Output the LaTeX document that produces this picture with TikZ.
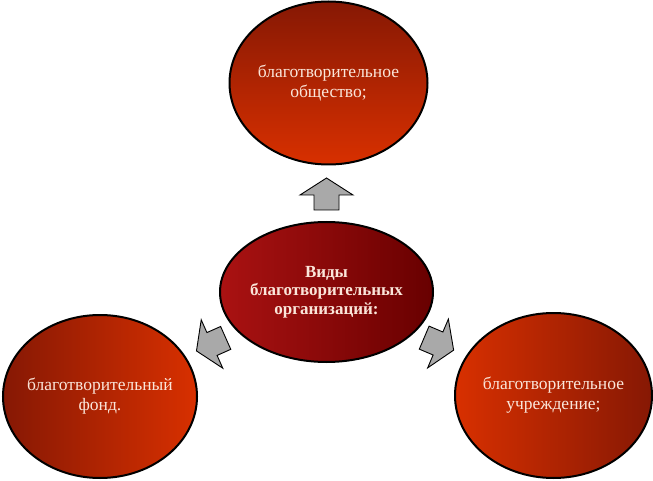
\documentclass[tikz,border=0pt]{standalone}
\usepackage{fontspec}
\setmainfont{Liberation Serif}
\usetikzlibrary{shapes.geometric}
\definecolor{darkred}{HTML}{861804}
\definecolor{brightred}{HTML}{D83000}
\definecolor{cleft}{HTML}{AA1212}
\definecolor{cright}{HTML}{680000}
\definecolor{txt}{HTML}{FBE6DA}
\definecolor{arrowgray}{HTML}{A9A9A9}
\tikzset{
  bubble/.style={ellipse, draw=black, line width=2pt, inner xsep=-40pt, inner ysep=-20pt, align=center,
    text=txt, font=\fontsize{17.5}{20}\selectfont},
  arrowfill/.style={draw=black, line width=0.9pt, fill=arrowgray, line join=miter},
  blockarrow/.pic={\draw[arrowfill] (17,0) -- (0,26.5) -- (0,12.5) -- (-15,12.5) -- (-15,-12.5) -- (0,-12.5) -- (0,-26.5) -- cycle;}
}
\begin{document}
\begin{tikzpicture}[x=1pt,y=1pt]
\useasboundingbox (0,0) rectangle (653,480);
\fill[white] (0,0) rectangle (653,480);
\node[bubble, minimum width=198pt, minimum height=163pt, top color=darkred, bottom color=brightred]
  (top) at (328.5,397) {благотворительное\\общество;};
\node[bubble, minimum width=213pt, minimum height=140pt, left color=cleft, right color=cright,
  font=\bfseries\fontsize{17}{18.5}\selectfont]
  (center) at (326.5,188) {Виды\\благотворительных\\организаций:};
\node[bubble, minimum width=194pt, minimum height=163pt, left color=darkred, right color=brightred]
  (left) at (100,83.5) {благотворительный\\фонд.};
\node[bubble, minimum width=197pt, minimum height=165pt, left color=brightred, right color=darkred]
  (right) at (553.5,84.5) {благотворительное\\учреждение;};
\pic[rotate=90] at (326.5,285) {blockarrow};
\pic[rotate=204] at (212,136) {blockarrow};
\pic[rotate=-23] at (438,136.5) {blockarrow};
\end{tikzpicture}
\end{document}
